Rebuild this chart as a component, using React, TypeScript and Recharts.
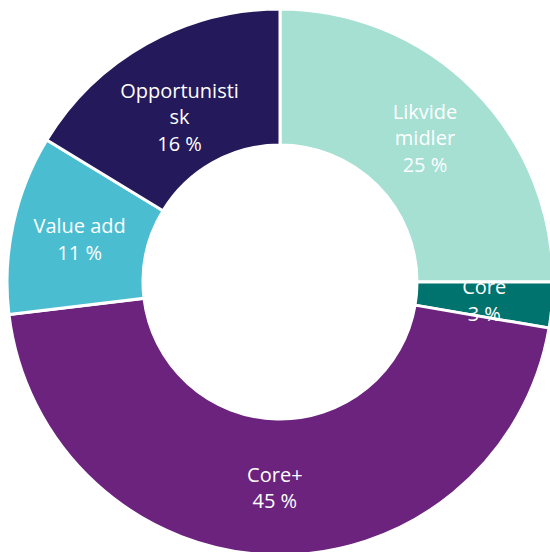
import { PieChart, Pie, Cell } from "recharts";

const categories = ["Likvide midler", "Core", "Core+", "Value add", "Opportunistisk"];
const values = [25, 2.7, 45.4, 10.6, 16.3];
const pctLabels = ["25 %", "3 %", "45 %", "11 %", "16 %"];
// how each category name is wrapped in the picture
const nameLines = [["Likvide", "midler"], ["Core"], ["Core+"], ["Value add"], ["Opportunisti", "sk"]];
const colors = ["#A5E0D3", "#00736E", "#6B237E", "#4BBDD1", "#24195A"];

const data = categories.map((name, i) => ({ name, value: values[i] }));

const RAD = Math.PI / 180;
// the three-line label sits a little lower in the slice
const labelShiftY: Record<number, number> = { 4: 13 };

// Label centred on the ring, name lines above the percentage
const SliceLabel = (props: any) => {
  const { cx, cy, midAngle, innerRadius, outerRadius, index } = props;
  const r = (innerRadius + outerRadius) / 2;
  const x = cx + r * Math.cos(-midAngle * RAD);
  const y = cy + r * Math.sin(-midAngle * RAD) + (labelShiftY[index] ?? 0);
  const lines = [...nameLines[index], pctLabels[index]];
  const lh = 26.5;
  const top = y - ((lines.length - 1) * lh) / 2;
  return (
    <text
      x={x}
      y={top}
      fill="#ffffff"
      textAnchor="middle"
      dominantBaseline="central"
      style={{ fontSize: 20, fontFamily: "'Open Sans', sans-serif" }}
    >
      {lines.map((l, i) => (
        <tspan key={i} x={x} y={top + i * lh}>
          {l}
        </tspan>
      ))}
    </text>
  );
};

export default function App() {
  return (
    <div style={{ position: "absolute", left: 0, top: 0, background: "#fff" }}>
      <PieChart width={550} height={552} margin={{ top: 0, right: 0, bottom: 0, left: 0 }}>
        <Pie
          data={data}
          dataKey="value"
          nameKey="name"
          cx={280}
          cy={282}
          innerRadius={137}
          outerRadius={273}
          startAngle={90}
          endAngle={-270}
          stroke="#ffffff"
          strokeWidth={3}
          label={SliceLabel}
          labelLine={false}
          isAnimationActive={false}
        >
          {data.map((d, i) => (
            <Cell key={d.name} fill={colors[i]} />
          ))}
        </Pie>
      </PieChart>
    </div>
  );
}
